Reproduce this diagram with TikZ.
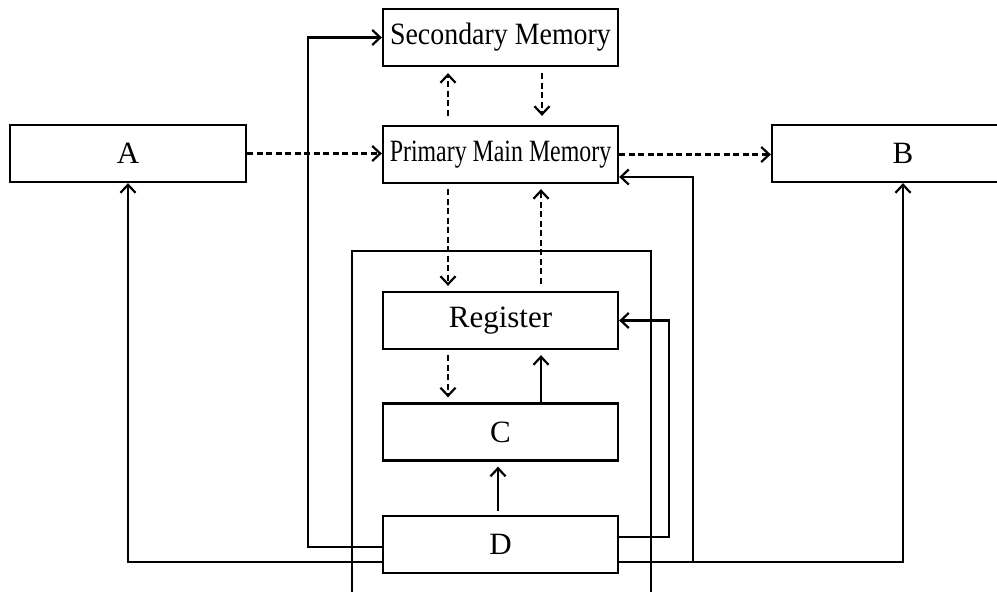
\documentclass[tikz,border=0pt]{standalone}
\usepackage{fontspec}
\usepackage{graphicx}
\setmainfont{Liberation Serif}
\usetikzlibrary{arrows.meta}
\begin{document}
\begin{tikzpicture}[x=1pt,y=-1pt,
  box/.style={draw, line width=2.3pt, minimum width=235pt, minimum height=57pt, inner sep=0pt,
    font=\fontsize{31}{31}\selectfont},
  conn/.style={line width=2.2pt},
  arr/.style={conn, -{Straight Barb[length=8pt,width=15pt,line width=2.2pt]}},
  darr/.style={arr, dash pattern=on 6pt off 3.5pt}]
\useasboundingbox (0,0) rectangle (997,592);
\clip (0,0) rectangle (997,592);
\node[box] (SM) at (500.5,37.5) {\scalebox{0.9}[1]{Secondary Memory}};
\node[box] (PMM) at (500.5,154.5) {\scalebox{0.77}[1]{Primary Main Memory}};
\node[box] (R) at (500.5,320.5) {Register};
\node[box] (C) at (500.5,432) {C};
\node[box] (D) at (500.5,544.5) {D};
\node[box, minimum width=236pt] (A) at (128,153.5) {A};
\node[box, minimum width=262pt] (B) at (903,153.5) {B};
% outer processor frame
\draw[conn] (352,600) -- (352,251) -- (651,251) -- (651,600);
% dashed data flows
\draw[darr] (A.east) -- (A.east -| PMM.west);
\draw[darr] (PMM.east) -- (PMM.east -| B.west);
\draw[darr, shorten <=9pt, shorten >=6pt] ([xshift=-52.5pt]PMM.north) -- ([xshift=-52.5pt]SM.south);
\draw[darr, shorten <=6pt, shorten >=9pt] ([xshift=41.5pt]SM.south) -- ([xshift=41.5pt]PMM.north);
\draw[darr, shorten <=5pt, shorten >=5pt] ([xshift=-52.5pt]PMM.south) -- ([xshift=-52.5pt]R.north);
\draw[darr, shorten <=7pt, shorten >=5pt] ([xshift=40.5pt]R.north) -- ([xshift=40.5pt]PMM.south);
\draw[darr, shorten <=5pt, shorten >=5pt] ([xshift=-52.5pt]R.south) -- ([xshift=-52.5pt]C.north);
% solid control flows
\draw[arr, shorten >=5pt] ([xshift=40.5pt]C.north) -- ([xshift=40.5pt]R.south);
\draw[arr, shorten <=4pt, shorten >=5pt] ([xshift=-2.5pt]D.north) -- ([xshift=-2.5pt]C.south);
\draw[arr] ([yshift=-2.5pt]D.west) -- ++(-74,0) |- (SM.west);
\draw[arr] ([yshift=-17.5pt]D.west) -| (A.south);
\draw[arr] ([yshift=-17.5pt]D.east) -| (B.south);
\draw[arr] ([yshift=7.5pt]D.east) -- ++(50,0) |- (R.east);
\coordinate (j) at ([xshift=74pt,yshift=-17.5pt]D.east);
\draw[arr] (j) |- ([yshift=-22.5pt]PMM.east);
\end{tikzpicture}
\end{document}
